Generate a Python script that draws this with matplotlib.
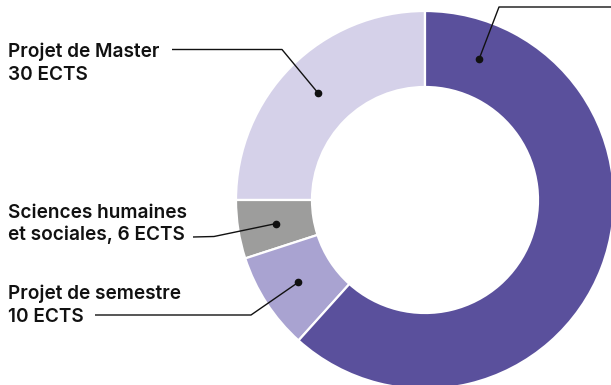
import matplotlib
matplotlib.use("Agg")
import matplotlib.pyplot as plt
import numpy as np

# Data (ECTS)
categories = ["Projet de Master", "Sciences humaines et sociales", "Projet de semestre", "Cours"]
values = [30, 6, 10, 74]
colors = ["#D5D1E9", "#9D9D9C", "#A9A3D1", "#5A509C"]
label_lines = [["Projet de Master", "30 ECTS"],
               ["Sciences humaines", "et sociales, 6 ECTS"],
               ["Projet de semestre", "10 ECTS"],
               None]

W, H = 611, 385
fig = plt.figure(figsize=(W / 100, H / 100), dpi=100)
ax = fig.add_axes([0, 0, 1, 1])

cx, cy = 425, H - 200
R, ring = 189, 76
wedges, _ = ax.pie(values, colors=colors, startangle=90, counterclock=True,
                   radius=R, center=(cx, cy),
                   wedgeprops=dict(width=ring, edgecolor="white", linewidth=1.6))
ax.set_xlim(0, W)
ax.set_ylim(0, H)
ax.set_aspect("equal")
ax.axis("off")

font = dict(family=["Inter", "DejaVu Sans"], fontsize=13.7, weight=600, color="#111111")

layouts = [
    (57, 22.5, [(172, 49.5), (282, 49.5)]),
    (218, 22.5, [(193, 237), (214, 236.5)]),
    (299, 23, [(95, 315), (251, 315)]),
    (None, None, [(611, 7), (499, 7)]),
]
rm = R - ring / 2
for i, (w, lay) in enumerate(zip(wedges, layouts)):
    base, sp, path = lay
    if i < 3:
        ang = np.deg2rad((w.theta1 + w.theta2) / 2)
    else:
        ang = np.deg2rad(69)
    dx, dy = cx + rm * np.cos(ang), cy + rm * np.sin(ang)
    xs = [p[0] for p in path] + [dx]
    ys = [H - p[1] for p in path] + [dy]
    ax.plot(xs, ys, color="#111111", lw=1.0, solid_capstyle="butt")
    ax.plot([dx], [dy], "o", color="#111111", ms=4.5)
    if label_lines[i]:
        for k, line in enumerate(label_lines[i]):
            ax.text(7.5, H - (base + k * sp), line, ha="left", va="baseline", **font)

fig.savefig("out.png", dpi=100)
